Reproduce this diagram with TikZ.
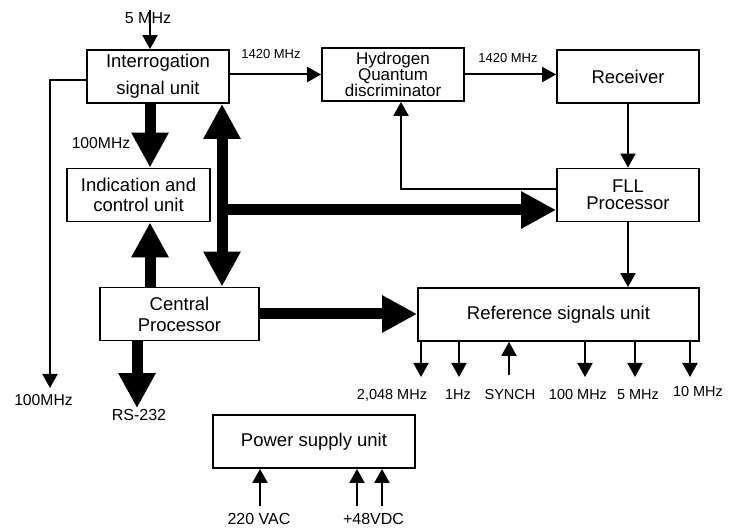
\documentclass[tikz,border=0pt]{standalone}
\usepackage{fontspec}
\setmainfont{Liberation Sans}
\usetikzlibrary{arrows.meta}
\begin{document}
\begin{tikzpicture}
[x=1pt,y=-1pt,
  unitdecorate/.style={shape=rectangle,draw,line width=1.8pt,inner sep=0pt,minimum height=53pt,align=center,font=\fontsize{18.5}{21}\selectfont},%
  labeldecorate/.style={inner sep=1pt,font=\fontsize{14.5}{16}\selectfont},%
  linedecorate/.style={line width=2pt,-{Triangle[width=15pt,length=14pt]}},%
  busdecorate/.style={line width=11pt,-{Triangle[width=35pt,length=35pt]}}]
\useasboundingbox (0,0) rectangle (737,529);
%%% units
\node (isu) at (158,76.5) [unitdecorate,minimum width=142pt,font=\fontsize{18.5}{27}\selectfont] {Interrogation\\signal unit};
\node (hqd) at (393,74.5) [unitdecorate,minimum width=142pt,font=\fontsize{17}{16}\selectfont] {Hydrogen\\Quantum\\discriminator};
\node (rcv) at (628,76.5) [unitdecorate,minimum width=142pt] {Receiver};
\node (fll) at (628,195) [unitdecorate,minimum width=142pt,font=\fontsize{18.5}{17}\selectfont] {FLL\\Processor};
\node (icu) at (138.5,195) [unitdecorate,minimum width=143pt,font=\fontsize{18.5}{20}\selectfont] {Indication and\\control unit};
\node (cpu) at (179.5,314) [unitdecorate,minimum width=159pt] {Central\\Processor};
\node (rsu) at (558.5,314.5) [unitdecorate,minimum width=281pt] {Reference signals unit};
\node (psu) at (314,441.5) [unitdecorate,minimum width=202pt] {Power supply unit};
%%% labels
\node (f5) at (148,18) [labeldecorate,font=\fontsize{16}{18}\selectfont] {5 MHz};
\node (fa) at (271,54) [labeldecorate,font=\fontsize{13}{15}\selectfont] {1420 MHz};
\node (fb) at (508,58) [labeldecorate,font=\fontsize{13}{15}\selectfont] {1420 MHz};
\node (fc) at (101,143) [labeldecorate,font=\fontsize{15.7}{18}\selectfont] {100MHz};
\node (fd) at (43.5,400) [labeldecorate,font=\fontsize{15.7}{18}\selectfont] {100MHz};
\node (rs) at (139,415) [labeldecorate,font=\fontsize{16}{18}\selectfont] {RS-232};
\node (oa) at (392,395) [labeldecorate] {2,048 MHz};
\node (ob) at (458,395) [labeldecorate] {1Hz};
\node (oc) at (510,395) [labeldecorate] {SYNCH};
\node (od) at (578,395) [labeldecorate] {100 MHz};
\node (oe) at (638,395) [labeldecorate] {5 MHz};
\node (of) at (698,392) [labeldecorate] {10 MHz};
\node (va) at (259,518.5) [labeldecorate,inner sep=0pt,font=\fontsize{16}{18}\selectfont] {220 VAC};
\node (vb) at (373.5,518.5) [labeldecorate,inner sep=0pt,font=\fontsize{16}{18}\selectfont] {+48VDC};
% lanes and free ends
\coordinate (lanea) at (150,10);
\coordinate (laneb) at (222,0);
\coordinate (lanec) at (137,0);
\coordinate (laned) at (50,388);
\coordinate (jn) at (222,210);
\coordinate (pa) at (260,506);
\coordinate (pb) at (357,506);
\coordinate (pc) at (382,506);
\coordinate (qa) at (421,377);
\coordinate (qb) at (459,377);
\coordinate (qc) at (509,375);
\coordinate (qd) at (585,377);
\coordinate (qe) at (635,377);
\coordinate (qf) at (690,377);
%%% thin signal lines
\path
(lanea) edge[linedecorate] (lanea |- isu.north)
(hqd.west -| isu.east) edge[linedecorate] (hqd.west)
(hqd.east) edge[linedecorate] (hqd.east -| rcv.west)
(rcv.south) edge[linedecorate] (fll.north)
(fll.south) edge[linedecorate] (fll.south |- rsu.north)
(rsu.south -| qa) edge[linedecorate] (qa)
(rsu.south -| qb) edge[linedecorate] (qb)
(qc) edge[linedecorate] (rsu.south -| qc)
(rsu.south -| qd) edge[linedecorate] (qd)
(rsu.south -| qe) edge[linedecorate] (qe)
(rsu.south -| qf) edge[linedecorate] (qf)
(pa) edge[linedecorate] (pa |- psu.south)
(pb) edge[linedecorate] (pb |- psu.south)
(pc) edge[linedecorate] (pc |- psu.south);
\draw[linedecorate] ([yshift=6pt]fll.west) -| ([xshift=8pt]hqd.south);
\draw[linedecorate] ([yshift=-4pt]isu.west) -| (laned);
%%% bus lines
\path
(lanea |- isu.south) edge[busdecorate] (lanea |- icu.north)
(lanea |- cpu.north) edge[busdecorate] (lanea |- icu.south)
(laneb |- cpu.north) edge[busdecorate,{Triangle[width=35pt,length=35pt]}-{Triangle[width=35pt,length=35pt]}] (laneb |- isu.south)
(jn) edge[busdecorate] (jn -| fll.west)
(cpu.east) edge[busdecorate] (cpu.east -| rsu.west)
(lanec |- cpu.south) edge[busdecorate] (lanec |- rs.north);
\end{tikzpicture}
\end{document}
